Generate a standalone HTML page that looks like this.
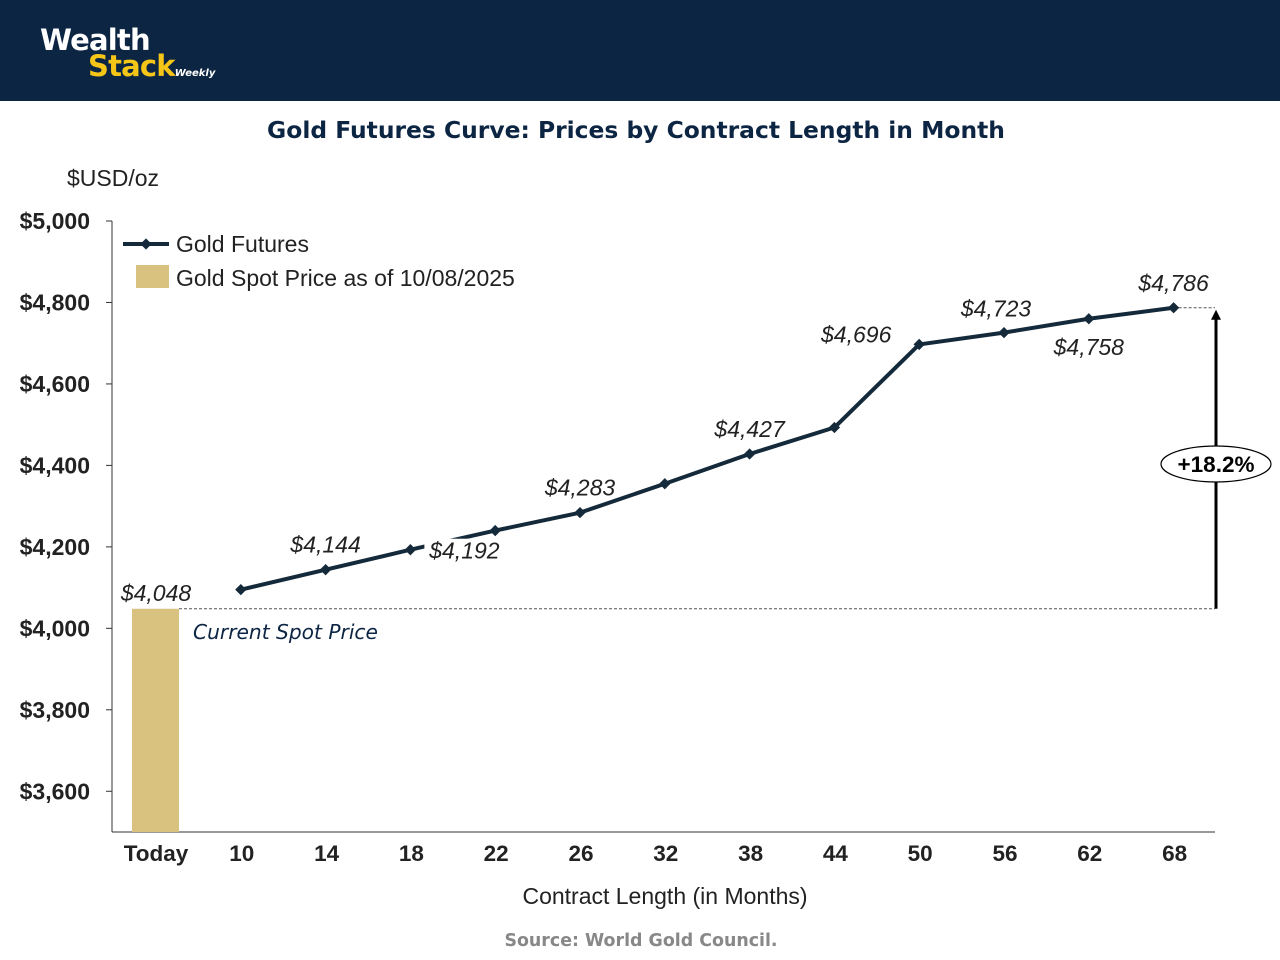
<!DOCTYPE html>
<html><head><meta charset="utf-8"><style>
body{margin:0;width:1280px;height:960px;background:#fff;overflow:hidden;font-family:"Liberation Sans",sans-serif}
#hdr{position:absolute;left:0;top:0;width:1280px;height:101px;background:#0c2543}
</style></head><body>
<div id="hdr">
<div style="position:absolute;left:40px;top:27px;font-family:'DejaVu Sans',sans-serif;font-weight:bold;line-height:26px">
<div style="color:#fff;font-size:29px;letter-spacing:-0.8px">Wealth</div>
<div style="color:#f5c518;font-size:29px;margin-left:48px;letter-spacing:-0.8px">Stack<span style="color:#fff;font-size:10px;font-style:italic;letter-spacing:0">Weekly</span></div>
</div></div>
<svg width="1280" height="960" style="position:absolute;left:0;top:0" id="chart">
<text x="636" y="138" text-anchor="middle" font-family="DejaVu Sans,sans-serif" font-weight="bold" font-size="23.4" fill="#0c2543">Gold Futures Curve: Prices by Contract Length in Month</text>
<text x="67" y="186" font-size="23" fill="#222">$USD/oz</text>
<text x="665" y="904" text-anchor="middle" font-size="23" fill="#222">Contract Length (in Months)</text>
<text x="641" y="946" text-anchor="middle" font-family="DejaVu Sans,sans-serif" font-weight="bold" font-size="17.4" fill="#888">Source: World Gold Council.</text>
<g id="g"></g>
</svg>
<script>
const categories=["Today","10","14","18","22","26","32","38","44","50","56","62","68"];
const spotValue=4048;
const futuresValues=[null,4095,4144,4193,4240,4284,4355,4428,4493,4697,4726,4760,4787];
const labelTexts=[null,null,"$4,144","$4,192",null,"$4,283",null,"$4,427",null,"$4,696","$4,723","$4,758","$4,786"];
const growthLabel="+18.2%";
const yTicks=[3600,3800,4000,4200,4400,4600,4800,5000];
const yMin=3500,yMax=5000;
(function(){
const NS="http://www.w3.org/2000/svg";
const g=document.getElementById('g');
const y=v=>221+(yMax-v)*(832-221)/(yMax-yMin);
const x=i=>156+i*84.8;
function mk(t,a,txt){const e=document.createElementNS(NS,t);for(const k in a)e.setAttribute(k,a[k]);if(txt!=null)e.textContent=txt;g.appendChild(e);return e;}
let e;
e=mk('line',{x1:112,y1:221,x2:112,y2:832,stroke:'#333','stroke-width':1});

e=mk('line',{x1:112,y1:832,x2:1215,y2:832,stroke:'#333','stroke-width':1});

yTicks.forEach(v=>{
 e=mk('line',{x1:106,x2:112,y1:y(v),y2:y(v),stroke:'#333'});
 
 e=mk('text',{x:90,y:y(v)+8,'text-anchor':'end','font-size':23,'font-weight':'bold',fill:'#222'},'$'+v.toLocaleString('en-US'));
 
});
categories.forEach((c,i)=>{
 e=mk('text',{x:x(i)+(i==0?0:1),y:861,'text-anchor':'middle','font-size':22.5,'font-weight':'bold',fill:'#222'},c);
 
});
e=mk('rect',{x:x(0)-24,y:y(spotValue),width:47,height:832-y(spotValue),fill:'#d9c17f'});

e=mk('text',{x:x(0),y:y(spotValue)-8,'text-anchor':'middle','font-size':23,'font-style':'italic',fill:'#222'},'$'+spotValue.toLocaleString('en-US'));

e=mk('text',{x:193,y:y(spotValue)+30,'font-family':'DejaVu Sans,sans-serif','font-size':20.2,'font-style':'italic',fill:'#0c2543'},'Current Spot Price');

e=mk('line',{x1:x(0)+23,x2:1215,y1:y(spotValue),y2:y(spotValue),stroke:'#555','stroke-dasharray':'3,2'});

const last=futuresValues.length-1;
e=mk('line',{x1:x(last),x2:1215,y1:y(futuresValues[last]),y2:y(futuresValues[last]),stroke:'#555','stroke-dasharray':'3,2'});

let pts=[];futuresValues.forEach((v,i)=>{if(v!=null)pts.push(x(i)+','+y(v));});
e=mk('polyline',{points:pts.join(' '),fill:'none',stroke:'#142a3a','stroke-width':4,'stroke-linejoin':'round'});

futuresValues.forEach((v,i)=>{if(v==null)return;
 e=mk('rect',{x:x(i)-4,y:y(v)-4,width:8,height:8,fill:'#142a3a',transform:`rotate(45 ${x(i)} ${y(v)})`});
 
});
labelTexts.forEach((t,i)=>{if(!t)return;const v=futuresValues[i];
 let lx=x(i),ly=y(v)-17;
 if(i==3){lx=x(i)+54;ly=y(v)+9;e=mk('rect',{x:lx-40,y:ly-20,width:80,height:27,fill:'#fff'});}
 if(i==11){ly=y(v)+36;}
 if(i==9){lx=x(i)-63;ly=y(v)-2;}
 if(i==10){lx=x(i)-8;ly=y(v)-16;}
 e=mk('text',{x:lx,y:ly,'text-anchor':'middle','font-size':23,'font-style':'italic',fill:'#222'},t);
 
});
const ax=1216,arrowTop=y(futuresValues[last])+2;
e=mk('line',{x1:ax,x2:ax,y1:y(spotValue),y2:arrowTop+8,stroke:'#000','stroke-width':3});

e=mk('polygon',{points:`${ax},${arrowTop} ${ax-5},${arrowTop+10} ${ax+5},${arrowTop+10}`,fill:'#000'});

e=mk('ellipse',{cx:ax,cy:464,rx:55,ry:18,fill:'#fff',stroke:'#000','stroke-width':1.2});

e=mk('text',{x:ax,y:472,'text-anchor':'middle','font-size':22.5,'font-weight':'bold',fill:'#000'},growthLabel);

e=mk('line',{x1:123,x2:169,y1:244,y2:244,stroke:'#142a3a','stroke-width':4});

e=mk('rect',{x:142,y:240,width:8,height:8,fill:'#142a3a',transform:'rotate(45 146 244)'});

e=mk('text',{x:176,y:252,'font-size':23,fill:'#222'},'Gold Futures');

e=mk('rect',{x:136,y:265,width:33,height:23,fill:'#d9c17f'});

e=mk('text',{x:176,y:286,'font-size':23,fill:'#222'},'Gold Spot Price as of 10/08/2025');

})();
</script>
</body></html>
